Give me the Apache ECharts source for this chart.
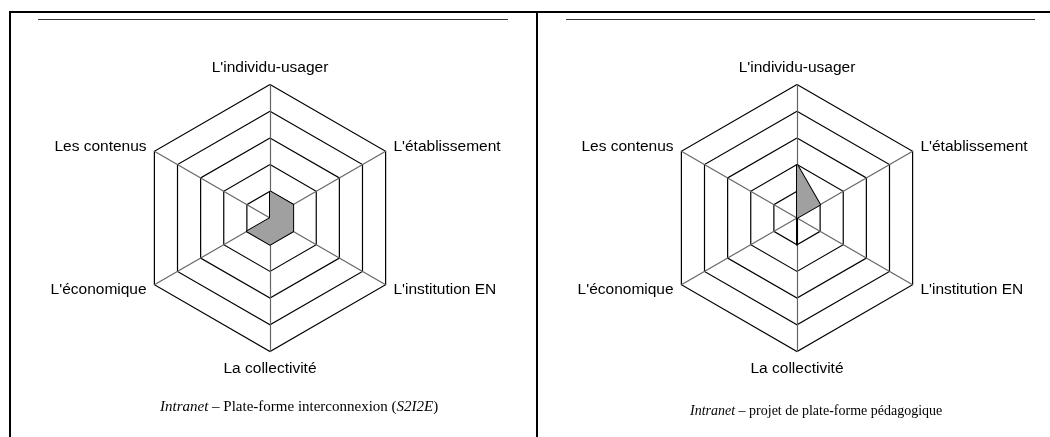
<!DOCTYPE html>
<html>
<head>
<meta charset="utf-8">
<script src="https://cdn.jsdelivr.net/npm/echarts@6/dist/echarts.min.js"></script>
<style>
  html, body { margin: 0; padding: 0; background: #fff; }
  #radar { width: 1050px; height: 437px; }
</style>
</head>
<body>
<div id="radar"></div>
<script>
var dom = document.getElementById("radar");
var myChart = echarts.init(dom);

// axes, in ECharts order (top, then counter-clockwise)
var axes = ["L'individu-usager", 'Les contenus', "L'économique", 'La collectivité', "L'institution EN", "L'établissement"];
var maxLevel = 5;
// valeurs
var s2i2e = [1, 0, 1, 1, 1, 1];
var pedago = [2, 0, 0, 1, 0, 1];
var captionLeft = 'Plate-forme interconnexion';
var captionRight = 'projet de plate-forme pédagogique';

var indicators = axes.map(function (n) { return { name: n, max: maxLevel }; });

function radarCfg(cx) {
    return {
        center: [cx, 218],
        radius: 133.5,
        startAngle: 90,
        splitNumber: maxLevel,
        shape: 'polygon',
        indicator: indicators,
        axisName: { color: '#000', fontFamily: 'Liberation Sans, Arial', fontSize: 15.5 },
        nameGap: 9,
        axisLine: { lineStyle: { color: '#666', width: 1.2 } },
        splitLine: { lineStyle: { color: '#000', width: 1.2 } },
        splitArea: { show: false }
    };
}

function serieCfg(idx, data) {
    return {
        type: 'radar',
        radarIndex: idx,
        symbol: 'none',
        silent: true,
        lineStyle: { color: '#000', width: 2 },
        areaStyle: { color: '#a0a0a0', opacity: 1 },
        data: [{ value: data }]
    };
}

option = {
    animation: false,
    radar: [radarCfg(270), radarCfg(797)],
    series: [serieCfg(0, s2i2e), serieCfg(1, pedago)],
    graphic: [
        // cadre du tableau
        { type: 'line', shape: { x1: 9, y1: 12, x2: 1050, y2: 12 }, style: { stroke: '#000', lineWidth: 2 } },
        { type: 'line', shape: { x1: 10, y1: 11, x2: 10, y2: 437 }, style: { stroke: '#000', lineWidth: 2 } },
        { type: 'line', shape: { x1: 537, y1: 11, x2: 537, y2: 437 }, style: { stroke: '#000', lineWidth: 2 } },
        { type: 'line', shape: { x1: 38, y1: 19.5, x2: 508, y2: 19.5 }, style: { stroke: '#333', lineWidth: 1 } },
        { type: 'line', shape: { x1: 566, y1: 19.5, x2: 1035, y2: 19.5 }, style: { stroke: '#333', lineWidth: 1 } },
        // légendes
        {
            type: 'text', left: 160, top: 400,
            style: {
                text: '{i|Intranet} – ' + captionLeft + ' ({i|S2I2E})',
                font: '15px "Liberation Serif", serif', fill: '#000',
                rich: { i: { fontStyle: 'italic', fontFamily: 'Liberation Serif', fontSize: 15 } }
            }
        },
        {
            type: 'text', left: 690, top: 404,
            style: {
                text: '{i|Intranet} – ' + captionRight,
                font: '14px "Liberation Serif", serif', fill: '#000',
                rich: { i: { fontStyle: 'italic', fontFamily: 'Liberation Serif', fontSize: 14 } }
            }
        }
    ]
};
if (option && typeof option === "object") {
    myChart.setOption(option, true);
}
</script>
</body>
</html>
